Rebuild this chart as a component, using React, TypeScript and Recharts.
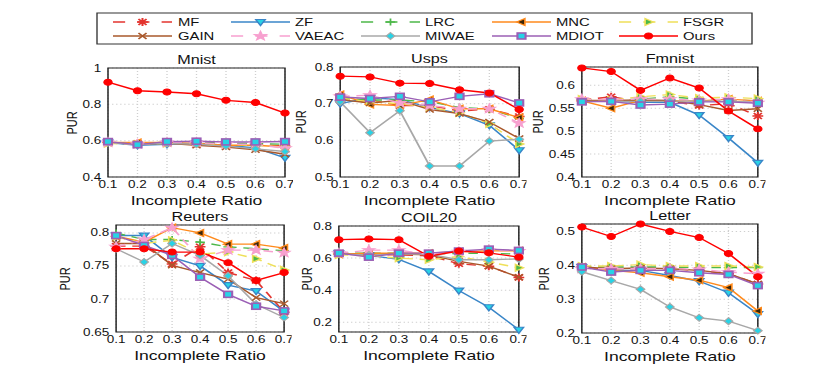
import React from "react";
import { LineChart, Line, XAxis, YAxis, CartesianGrid, ReferenceArea } from "recharts";

// the source figure is stretched sideways, so everything is laid out
// in a narrower box and scaled back out to 830px
const SX = 1.35;
const FONT = '"Liberation Sans", Arial, Helvetica, sans-serif';

const RATIOS = [0.1, 0.2, 0.3, 0.4, 0.5, 0.6, 0.7];
const METHODS = ["MF", "ZF", "LRC", "MNC", "FSGR", "GAIN", "VAEAC", "MIWAE", "MDIOT", "Ours"];

// PUR per method (rows follow METHODS)
const mnist = [
  [0.59, 0.585, 0.59, 0.59, 0.585, 0.58, 0.57],
  [0.59, 0.575, 0.58, 0.585, 0.575, 0.56, 0.505],
  [0.59, 0.585, 0.59, 0.59, 0.585, 0.585, 0.58],
  [0.59, 0.59, 0.59, 0.585, 0.575, 0.575, 0.565],
  [0.585, 0.58, 0.585, 0.585, 0.58, 0.575, 0.565],
  [0.59, 0.58, 0.585, 0.575, 0.565, 0.55, 0.525],
  [0.59, 0.58, 0.59, 0.59, 0.58, 0.58, 0.558],
  [0.59, 0.58, 0.585, 0.58, 0.57, 0.555, 0.54],
  [0.595, 0.578, 0.595, 0.597, 0.593, 0.593, 0.595],
  [0.922, 0.875, 0.868, 0.858, 0.822, 0.81, 0.752],
];

const usps = [
  [0.71, 0.71, 0.695, 0.695, 0.68, 0.685, 0.665],
  [0.7, 0.716, 0.711, 0.69, 0.673, 0.641, 0.573],
  [0.715, 0.71, 0.71, 0.705, 0.69, 0.685, 0.66],
  [0.725, 0.698, 0.695, 0.711, 0.686, 0.686, 0.662],
  [0.715, 0.705, 0.7, 0.69, 0.675, 0.645, 0.59],
  [0.711, 0.702, 0.709, 0.684, 0.673, 0.65, 0.605],
  [0.72, 0.723, 0.702, 0.695, 0.686, 0.686, 0.647],
  [0.705, 0.621, 0.681, 0.53, 0.53, 0.598, 0.603],
  [0.718, 0.714, 0.72, 0.705, 0.72, 0.727, 0.702],
  [0.775, 0.773, 0.756, 0.755, 0.738, 0.729, 0.684],
];

const fmnist = [
  [0.568, 0.575, 0.565, 0.565, 0.556, 0.56, 0.533],
  [0.565, 0.565, 0.563, 0.563, 0.535, 0.485, 0.431],
  [0.568, 0.568, 0.57, 0.575, 0.57, 0.568, 0.566],
  [0.566, 0.55, 0.567, 0.566, 0.566, 0.57, 0.566],
  [0.57, 0.568, 0.575, 0.58, 0.572, 0.574, 0.571],
  [0.567, 0.567, 0.568, 0.567, 0.558, 0.545, 0.549],
  [0.57, 0.568, 0.57, 0.57, 0.567, 0.57, 0.562],
  [0.565, 0.565, 0.565, 0.565, 0.566, 0.565, 0.563],
  [0.564, 0.565, 0.557, 0.559, 0.564, 0.564, 0.561],
  [0.638, 0.63, 0.589, 0.616, 0.594, 0.544, 0.505],
];

const reuters = [
  [0.78, 0.78, 0.753, 0.779, 0.74, 0.728, 0.68],
  [0.796, 0.796, 0.763, 0.75, 0.721, 0.712, 0.681],
  [0.8, 0.79, 0.79, 0.786, 0.779, 0.776, 0.773],
  [0.795, 0.786, 0.808, 0.8, 0.783, 0.783, 0.777],
  [0.794, 0.784, 0.789, 0.768, 0.771, 0.761, 0.744],
  [0.784, 0.784, 0.751, 0.74, 0.73, 0.702, 0.693],
  [0.779, 0.79, 0.808, 0.761, 0.774, 0.774, 0.77],
  [0.776, 0.756, 0.784, 0.766, 0.735, 0.692, 0.672],
  [0.796, 0.781, 0.766, 0.733, 0.707, 0.689, 0.682],
  [0.776, 0.776, 0.771, 0.771, 0.755, 0.728, 0.74],
];

const coil20 = [
  [0.625, 0.62, 0.62, 0.615, 0.565, 0.55, 0.48],
  [0.63, 0.617, 0.592, 0.517, 0.398, 0.294, 0.154],
  [0.63, 0.63, 0.63, 0.625, 0.63, 0.63, 0.625],
  [0.625, 0.63, 0.63, 0.63, 0.64, 0.645, 0.645],
  [0.62, 0.615, 0.6, 0.59, 0.61, 0.575, 0.54],
  [0.625, 0.62, 0.625, 0.62, 0.58, 0.55, 0.481],
  [0.63, 0.65, 0.65, 0.62, 0.64, 0.65, 0.645],
  [0.625, 0.62, 0.625, 0.625, 0.59, 0.59, 0.595],
  [0.631, 0.606, 0.631, 0.631, 0.644, 0.656, 0.648],
  [0.715, 0.719, 0.715, 0.612, 0.644, 0.633, 0.606],
];

const letter = [
  [0.395, 0.39, 0.39, 0.39, 0.385, 0.375, 0.345],
  [0.395, 0.385, 0.385, 0.37, 0.353, 0.319, 0.256],
  [0.395, 0.395, 0.395, 0.395, 0.393, 0.393, 0.393],
  [0.395, 0.385, 0.378, 0.366, 0.356, 0.334, 0.265],
  [0.398, 0.398, 0.402, 0.398, 0.398, 0.398, 0.395],
  [0.395, 0.39, 0.392, 0.39, 0.385, 0.375, 0.345],
  [0.39, 0.39, 0.39, 0.39, 0.388, 0.38, 0.375],
  [0.381, 0.355, 0.329, 0.277, 0.245, 0.235, 0.207],
  [0.395, 0.38, 0.385, 0.385, 0.378, 0.373, 0.34],
  [0.513, 0.485, 0.522, 0.5, 0.482, 0.435, 0.366],
];

const STYLE: Record<string, { color: string; dash?: string; marker: string }> = {
  MF: { color: "#e3342f", dash: "7 5", marker: "asterisk" },
  ZF: { color: "#3a86c8", marker: "triDown" },
  LRC: { color: "#4db84a", dash: "7 5", marker: "plus" },
  MNC: { color: "#ff8a1c", marker: "triLeft" },
  FSGR: { color: "#efe05a", dash: "7 5", marker: "triRight" },
  GAIN: { color: "#a9582b", marker: "cross" },
  VAEAC: { color: "#f7a0cf", dash: "7 5", marker: "star" },
  MIWAE: { color: "#a8a8a8", marker: "diamond" },
  MDIOT: { color: "#9b5fb5", marker: "square" },
  Ours: { color: "#ff0000", marker: "circle" },
};

const CYAN = "#27d3e6";

function Marker({ kind, x, y, color }: { kind: string; x: number; y: number; color: string }) {
  if (x == null || y == null) return null;
  switch (kind) {
    case "circle":
      return <circle cx={x} cy={y} r={3} fill={color} stroke={color} />;
    case "square":
      return <rect x={x - 3} y={y - 3} width={6} height={6} fill={CYAN} stroke={color} strokeWidth={1.6} />;
    case "diamond":
      return (
        <polygon
          points={`${x},${y - 3.5} ${x + 3.2},${y} ${x},${y + 3.5} ${x - 3.2},${y}`}
          fill={CYAN}
          stroke={color}
        />
      );
    case "triDown":
      return (
        <polygon
          points={`${x - 3.5},${y - 2.5} ${x + 3.5},${y - 2.5} ${x},${y + 3.5}`}
          fill={CYAN}
          stroke={color}
          strokeWidth={1.2}
        />
      );
    case "triLeft":
      return (
        <polygon
          points={`${x - 3.5},${y} ${x + 2.5},${y - 3.5} ${x + 2.5},${y + 3.5}`}
          fill="#3b2608"
          stroke={color}
          strokeWidth={1.2}
        />
      );
    case "triRight":
      return (
        <polygon
          points={`${x + 3.5},${y} ${x - 2.5},${y - 3.5} ${x - 2.5},${y + 3.5}`}
          fill="#4cb84a"
          stroke={color}
          strokeWidth={1.2}
        />
      );
    case "plus":
      return <path d={`M${x - 3.5},${y}H${x + 3.5}M${x},${y - 3.5}V${y + 3.5}`} stroke={color} strokeWidth={1.3} />;
    case "cross":
      return (
        <path
          d={`M${x - 3},${y - 3}L${x + 3},${y + 3}M${x - 3},${y + 3}L${x + 3},${y - 3}`}
          stroke={color}
          strokeWidth={1.3}
        />
      );
    case "asterisk":
      return (
        <path
          d={`M${x - 4},${y}H${x + 4}M${x},${y - 4}V${y + 4}M${x - 3},${y - 3}L${x + 3},${y + 3}M${x - 3},${y + 3}L${x + 3},${y - 3}`}
          stroke={color}
          strokeWidth={1.5}
        />
      );
    case "star": {
      const pts: string[] = [];
      for (let i = 0; i < 10; i++) {
        const r = i % 2 === 0 ? 4.8 : 2;
        const a = -Math.PI / 2 + (i * Math.PI) / 5;
        pts.push(`${x + r * Math.cos(a)},${y + r * Math.sin(a)}`);
      }
      return <polygon points={pts.join(" ")} fill={color} stroke={color} />;
    }
    default:
      return null;
  }
}

type PanelProps = {
  title: string;
  rows: number[][];
  L: number;
  R: number;
  T: number;
  B: number;
  domain: [number, number];
  ticks: number[];
  pur: number;
};

const PAD_L = 40;
const PAD_T = 5;
const AXIS_H = 20;

function Panel({ title, rows, L, R, T, B, domain, ticks, pur }: PanelProps) {
  const w = (R - L) / SX;
  const h = B - T;
  const data = RATIOS.map((x, i) => {
    const row: Record<string, number> = { x };
    METHODS.forEach((m, k) => (row[m] = rows[k][i]));
    return row;
  });
  const text = { position: "absolute" as const, whiteSpace: "nowrap" as const, color: "#111" };
  return (
    <>
      <div style={{ ...text, left: (L + R) / 2 / SX, top: T - 8, fontSize: 12, transform: "translate(-50%,-50%)" }}>
        {title}
      </div>
      <div style={{ ...text, left: (L + R) / 2 / SX, top: B + 23, fontSize: 13, transform: "translate(-50%,-50%)" }}>
        Incomplete Ratio
      </div>
      <div
        style={{
          ...text,
          left: pur / SX,
          top: (T + B) / 2,
          fontSize: 11,
          transform: "translate(-50%,-50%) rotate(-90deg)",
        }}
      >
        PUR
      </div>
      <div style={{ position: "absolute", left: L / SX - PAD_L, top: T - PAD_T }}>
        <LineChart
          width={PAD_L + w + 6}
          height={PAD_T + h + AXIS_H}
          data={data}
          margin={{ top: PAD_T, right: 6, left: 0, bottom: 0 }}
        >
          <CartesianGrid stroke="#cfcfcf" strokeDasharray="1 2" />
          <XAxis
            type="number"
            dataKey="x"
            domain={[0.1, 0.7]}
            ticks={RATIOS}
            tickFormatter={(v: number) => v.toFixed(1)}
            height={AXIS_H}
            axisLine={false}
            tickLine={false}
            tickSize={3}
            tickMargin={1}
            tick={{ fontSize: 10, fill: "#111", fontFamily: FONT }}
            interval={0}
          />
          <YAxis
            type="number"
            domain={domain}
            ticks={ticks}
            tickFormatter={(v: number) => String(v)}
            width={PAD_L}
            axisLine={false}
            tickLine={false}
            tickSize={4}
            tickMargin={1}
            tick={{ fontSize: 10, fill: "#111", fontFamily: FONT }}
            interval={0}
          />
          {METHODS.map((m) => {
            const st = STYLE[m];
            return (
              <Line
                key={m}
                type="linear"
                dataKey={m}
                stroke={st.color}
                strokeWidth={1.4}
                strokeDasharray={st.dash}
                isAnimationActive={false}
                activeDot={false}
                dot={(p: any) => (
                  <Marker key={`${m}-${p.index}`} kind={st.marker} x={p.cx} y={p.cy} color={st.color} />
                )}
              />
            );
          })}
          <ReferenceArea
            x1={0.1}
            x2={0.7}
            y1={domain[0]}
            y2={domain[1]}
            fill="none"
            fillOpacity={0}
            stroke="#222"
            strokeWidth={1.1}
          />
        </LineChart>
      </div>
    </>
  );
}

// legend columns: line start, line end, label start (page px)
const LEGEND_COLS = [
  [113, 172, 178],
  [231, 290, 295],
  [361, 420, 425],
  [492, 551, 556],
  [619, 678, 683],
];
const LEGEND_ROWS = [22, 36];

function Legend() {
  return (
    <svg style={{ position: "absolute", left: 0, top: 0 }} width={830 / SX} height={50}>
      <rect x={97 / SX} y={13} width={(752 - 97) / SX} height={31} fill="#fff" stroke="#333" strokeWidth={1} />
      {METHODS.map((m, i) => {
        const [a, b, t] = LEGEND_COLS[i % 5];
        const y = LEGEND_ROWS[Math.floor(i / 5)];
        const st = STYLE[m];
        return (
          <g key={m}>
            <line x1={a / SX} x2={b / SX} y1={y} y2={y} stroke={st.color} strokeWidth={1.4} strokeDasharray={st.dash ? "9 9" : undefined} />
            <Marker kind={st.marker} x={(a + b) / 2 / SX} y={y} color={st.color} />
            <text x={t / SX} y={y} dominantBaseline="central" fontSize={11} fontFamily={FONT} fill="#111">
              {m}
            </text>
          </g>
        );
      })}
    </svg>
  );
}

const PANELS: PanelProps[] = [
  { title: "Mnist", rows: mnist, L: 108, R: 285, T: 68, B: 177, domain: [0.4, 1], ticks: [0.4, 0.6, 0.8, 1], pur: 72 },
  { title: "Usps", rows: usps, L: 340, R: 519, T: 67, B: 177, domain: [0.5, 0.8], ticks: [0.5, 0.6, 0.7, 0.8], pur: 301 },
  {
    title: "Fmnist",
    rows: fmnist,
    L: 582,
    R: 758,
    T: 67,
    B: 177,
    domain: [0.4, 0.64],
    ticks: [0.4, 0.45, 0.5, 0.55, 0.6],
    pur: 537,
  },
  {
    title: "Reuters",
    rows: reuters,
    L: 116,
    R: 284,
    T: 225,
    B: 332,
    domain: [0.65, 0.812],
    ticks: [0.65, 0.7, 0.75, 0.8],
    pur: 65,
  },
  { title: "COIL20", rows: coil20, L: 339, R: 519, T: 226, B: 332, domain: [0.14, 0.8], ticks: [0.2, 0.4, 0.6, 0.8], pur: 307 },
  { title: "Letter", rows: letter, L: 582, R: 758, T: 224, B: 333, domain: [0.2, 0.522], ticks: [0.2, 0.3, 0.4, 0.5], pur: 544 },
];

export default function App() {
  return (
    <div
      style={{
        position: "absolute",
        left: 0,
        top: 0,
        width: 830 / SX,
        height: 388,
        transform: `scaleX(${SX})`,
        transformOrigin: "0 0",
        fontFamily: FONT,
        background: "#fff",
      }}
    >
      <Legend />
      {PANELS.map((p) => (
        <Panel key={p.title} {...p} />
      ))}
    </div>
  );
}
